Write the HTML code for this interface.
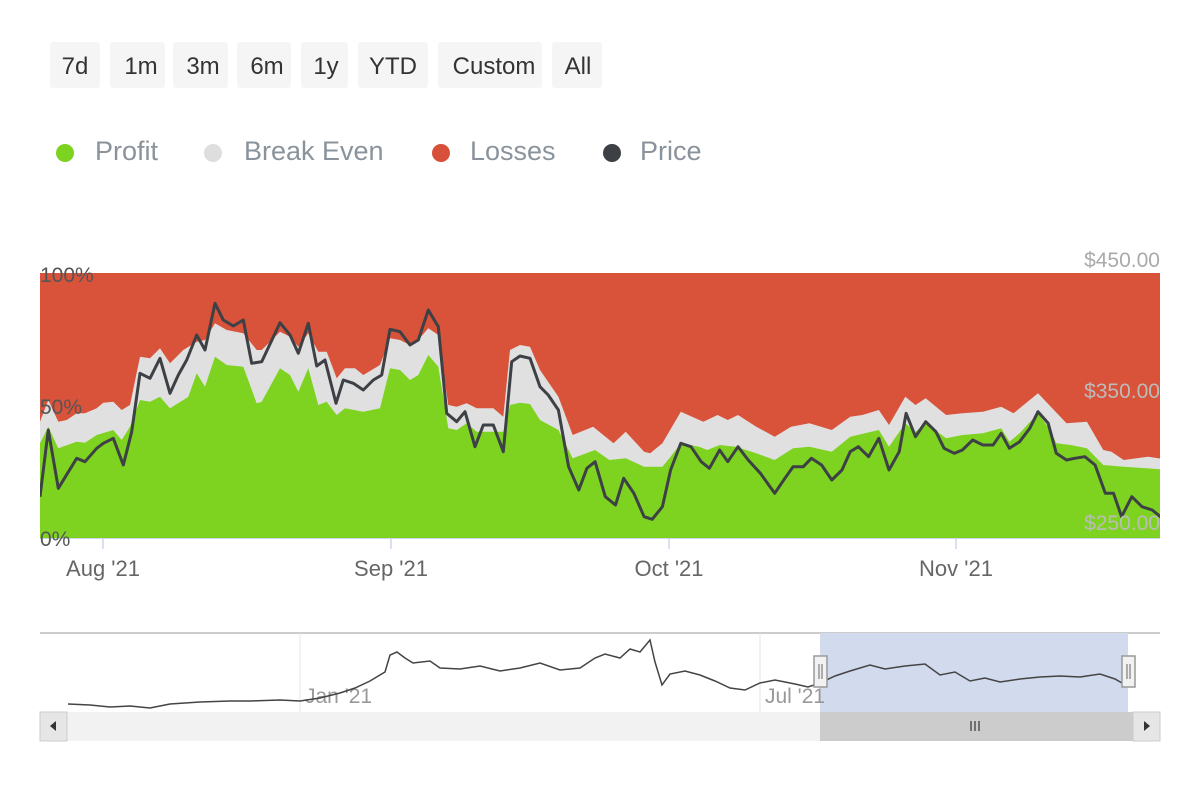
<!DOCTYPE html>
<html><head><meta charset="utf-8"><style>
html,body{margin:0;padding:0;background:#fff;width:1200px;height:800px;overflow:hidden}
svg{display:block}
text{font-family:"Liberation Sans Narrow","Liberation Sans",sans-serif}
</style></head><body>
<svg id="s" width="1200" height="800" xmlns="http://www.w3.org/2000/svg">
<g font-size="24" fill="#333">
<rect x="50" y="42" width="50" height="46" rx="3" fill="#f5f5f5"/><text x="75" y="74" text-anchor="middle">7d</text>
<rect x="110" y="42" width="55" height="46" rx="3" fill="#f5f5f5"/><text x="141" y="74" text-anchor="middle">1m</text>
<rect x="173" y="42" width="55" height="46" rx="3" fill="#f5f5f5"/><text x="203" y="74" text-anchor="middle">3m</text>
<rect x="237" y="42" width="54" height="46" rx="3" fill="#f5f5f5"/><text x="267" y="74" text-anchor="middle">6m</text>
<rect x="301" y="42" width="47" height="46" rx="3" fill="#f5f5f5"/><text x="326" y="74" text-anchor="middle">1y</text>
<rect x="358" y="42" width="70" height="46" rx="3" fill="#f5f5f5"/><text x="393" y="74" text-anchor="middle">YTD</text>
<rect x="438" y="42" width="104" height="46" rx="3" fill="#f5f5f5"/><text x="494" y="74" text-anchor="middle">Custom</text>
<rect x="552" y="42" width="50" height="46" rx="3" fill="#f5f5f5"/><text x="578" y="74" text-anchor="middle">All</text>
</g>
<g font-size="27" fill="#8a939b">
<circle cx="65" cy="153" r="9" fill="#7ed321"/><text x="95" y="160">Profit</text>
<circle cx="213" cy="153" r="9" fill="#dedede"/><text x="244" y="160">Break Even</text>
<circle cx="441" cy="153" r="9" fill="#d9503a"/><text x="470" y="160">Losses</text>
<circle cx="612" cy="153" r="9" fill="#3d4045"/><text x="640" y="160">Price</text>
</g>
<defs><clipPath id="pc"><rect x="40" y="273" width="1120" height="266"/></clipPath></defs>
<rect x="40" y="273" width="1120" height="265" fill="#d9523a"/>
<g clip-path="url(#pc)">
<path id="gray" fill="#e0e0e0"/>
<path id="green" fill="#7ed321"/>
<path id="price" fill="none" stroke="#3d4045" stroke-width="3" stroke-linejoin="round"/>
</g>
<line x1="40" y1="538.5" x2="1160" y2="538.5" stroke="#ccd6eb"/>
<g stroke="#ccd6eb" stroke-width="1.5"><line x1="103" y1="539" x2="103" y2="549"/><line x1="391" y1="539" x2="391" y2="549"/><line x1="669" y1="539" x2="669" y2="549"/><line x1="956" y1="539" x2="956" y2="549"/></g>
<g font-size="21" fill="#555" font-family="Liberation Serif"><text x="40" y="282" font-family="Liberation Serif">100%</text><text x="40" y="414" font-family="Liberation Serif">50%</text><text x="40" y="546" font-family="Liberation Serif">0%</text></g>
<g font-size="21" fill="#aaa" text-anchor="end"><text x="1160" y="267">$450.00</text><text x="1160" y="398" fill="#bbb">$350.00</text><text x="1160" y="530" fill="#bbb">$250.00</text></g>
<g font-size="22" fill="#666" text-anchor="middle"><text x="103" y="576">Aug '21</text><text x="391" y="576">Sep '21</text><text x="669" y="576">Oct '21</text><text x="956" y="576">Nov '21</text></g>
<!-- navigator -->
<line x1="40" y1="633" x2="1160" y2="633" stroke="#ccc" stroke-width="2"/>
<rect x="820" y="633" width="308" height="79" fill="#d2daed"/>
<g stroke="#e6e6e6"><line x1="300" y1="633" x2="300" y2="712"/><line x1="760" y1="633" x2="760" y2="712"/></g>
<g font-size="21" fill="#999"><text x="305" y="703">Jan '21</text><text x="765" y="703">Jul '21</text></g>
<path id="nav" fill="none" stroke="#444" stroke-width="1.5"/>
<rect x="40" y="712" width="1120" height="29" fill="#f2f2f2"/>
<rect x="40" y="712" width="27" height="29" fill="#e6e6e6" stroke="#ccc"/>
<rect x="1133" y="712" width="27" height="29" fill="#e6e6e6" stroke="#ccc"/>
<path d="M50 726 L56 721 L56 731Z" fill="#333"/><path d="M1150 726 L1144 721 L1144 731Z" fill="#333"/>
<rect x="820" y="712" width="313" height="29" fill="#cccccc"/>
<g stroke="#333" stroke-width="1.2"><line x1="971" y1="721" x2="971" y2="731"/><line x1="975" y1="721" x2="975" y2="731"/><line x1="979" y1="721" x2="979" y2="731"/></g>
<g fill="#f2f2f2" stroke="#999" stroke-width="1.5"><rect x="814" y="656" width="13" height="31"/><rect x="1122" y="656" width="13" height="31"/></g>
<g stroke="#666"><line x1="819" y1="664" x2="819" y2="679"/><line x1="822" y1="664" x2="822" y2="679"/><line x1="1127" y1="664" x2="1127" y2="679"/><line x1="1130" y1="664" x2="1130" y2="679"/></g>
</svg>
<script>
function z1(a){return a.map(p=>[30+p[0]/3,250+p[1]/3]);}
function z2(a){return a.map(p=>[540+p[0]/2.45,250+p[1]/3]);}
var g1=[[30,580],[55,530],[85,595],[140,575],[165,578],[200,555],[250,540],[275,570],[300,530],[330,450],[360,455],[390,440],[420,475],[460,450],[475,440],[500,370],[525,410],[555,320],[590,345],[640,350],[680,460],[695,455],[750,355],[780,375],[805,425],[835,355],[865,465],[890,455],[920,495],[945,475],[1000,485],[1050,475],[1080,355],[1110,360],[1140,390],[1165,375],[1195,315],[1225,350],[1255,535],[1280,540],[1310,520],[1340,545],[1390,545],[1420,545],[1440,465],[1470,458],[1500,462]];
var g2=[[0,510],[45,540],[80,625],[135,600],[170,630],[210,625],[255,650],[300,650],[320,620],[345,580],[390,590],[410,600],[440,585],[480,590],[530,610],[575,630],[620,595],[660,590],[715,605],[760,560],[830,540],[855,590],[895,520],[920,545],[945,520],[995,565],[1035,555],[1085,550],[1130,535],[1150,575],[1175,550],[1220,490],[1250,540],[1265,580],[1300,585],[1340,595],[1380,645],[1430,650],[1545,660]];
var w1=[[30,515],[55,450],[85,515],[110,510],[140,490],[165,490],[200,475],[220,458],[250,455],[275,480],[300,465],[330,320],[360,325],[390,295],[420,340],[460,300],[500,275],[525,270],[555,220],[590,240],[640,250],[680,300],[695,300],[750,245],[780,260],[805,290],[835,250],[865,305],[890,305],[920,385],[945,355],[975,355],[1000,375],[1050,345],[1080,265],[1110,270],[1140,285],[1165,270],[1195,235],[1225,255],[1255,465],[1280,470],[1310,460],[1340,475],[1390,475],[1420,500],[1440,300],[1470,285],[1500,290]];
var w2=[[0,360],[45,440],[80,555],[130,530],[180,580],[210,545],[255,605],[270,610],[300,580],[345,485],[400,515],[435,495],[460,510],[485,495],[530,530],[575,560],[615,530],[660,520],[715,540],[760,500],[790,495],[830,480],[855,525],[895,440],[920,465],[945,445],[995,495],[1035,490],[1085,485],[1130,470],[1160,490],[1220,430],[1290,520],[1340,515],[1380,600],[1400,605],[1430,630],[1490,620],[1545,630]];
var p1=[[30,740],[55,540],[85,715],[140,625],[165,635],[200,595],[220,580],[250,565],[280,645],[305,545],[330,370],[360,385],[390,325],[420,430],[445,375],[470,330],[500,255],[525,300],[555,160],[580,210],[610,228],[640,210],[665,340],[695,335],[750,218],[780,255],[805,310],[835,220],[860,348],[885,330],[918,460],[940,390],[970,400],[1000,420],[1030,390],[1055,375],[1080,238],[1110,245],[1140,285],[1165,270],[1195,180],[1225,230],[1250,490],[1280,515],[1305,485],[1335,590],[1360,525],[1390,525],[1420,605],[1445,335],[1470,318],[1500,325]];
var p2=[[0,410],[20,435],[45,480],[70,650],[95,720],[115,655],[135,635],[160,740],[185,765],[205,685],[230,730],[255,800],[275,808],[300,770],[320,660],[345,580],[370,590],[395,635],[415,655],[440,600],[460,635],[485,590],[510,630],[540,670],[575,730],[600,685],[620,650],[645,650],[665,625],[690,645],[715,690],[740,660],[760,605],[780,590],[805,620],[830,565],[855,660],[880,605],[897,490],[920,560],[945,515],[970,545],[990,595],[1015,610],[1035,600],[1060,570],[1085,585],[1110,585],[1130,550],[1150,595],[1175,575],[1200,535],[1220,485],[1245,520],[1265,610],[1290,630],[1310,625],[1335,620],[1360,645],[1385,730],[1405,730],[1425,800],[1450,740],[1475,770],[1500,780],[1520,800],[1545,795]];
function line(a){return a.map((p,i)=>(i?'L':'M')+p[0].toFixed(1)+' '+p[1].toFixed(1)).join(' ');}
function area(a){a=[[40,a[0][1]]].concat(a);return line(a)+' L1170 '+a[a.length-1][1]+' L1170 540 L40 540 Z';}
var G=z1(g1).filter(p=>p[0]<540).concat(z2(g2));
var W=z1(w1).filter(p=>p[0]<540).concat(z2(w2));
var P=z1(p1).filter(p=>p[0]<540).concat(z2(p2));
document.getElementById('green').setAttribute('d',area(G));
document.getElementById('gray').setAttribute('d',area(W));
document.getElementById('price').setAttribute('d',line(P));
var nv=[[68,704],[90,705],[110,707],[130,706],[150,708],[170,704],[200,702],[230,701],[250,701],[280,700],[300,701],[320,698],[340,693],[355,688],[370,681],[385,672],[390,655],[397,652],[405,658],[413,663],[430,661],[440,668],[460,669],[480,666],[500,671],[520,668],[540,663],[560,670],[580,668],[595,658],[605,654],[620,658],[630,649],[640,652],[650,640],[655,662],[662,685],[670,674],[685,671],[700,675],[715,681],[730,688],[745,690],[760,683],[775,680],[795,684],[808,687],[820,683],[835,676],[850,671],[870,665],[885,669],[905,666],[925,664],[940,675],[955,672],[970,681],[985,678],[1000,682],[1020,679],[1040,677],[1060,676],[1080,677],[1100,674],[1115,679],[1122,683]];
document.getElementById('nav').setAttribute('d',line(nv));
</script>
</body></html>
